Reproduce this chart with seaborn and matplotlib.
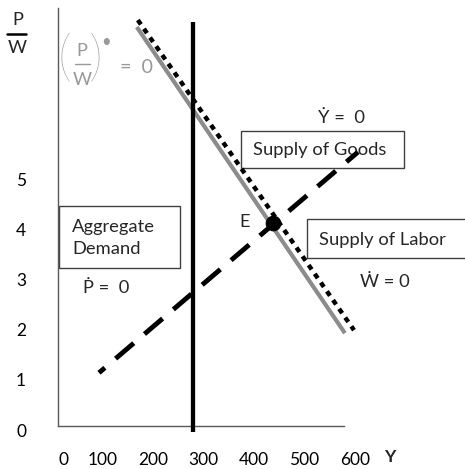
import matplotlib
matplotlib.use("Agg")
import matplotlib.pyplot as plt
import matplotlib.transforms as mtransforms
from matplotlib.patches import Rectangle
from matplotlib.lines import Line2D
import seaborn as sns
import pandas as pd

sns.set_style("white")
plt.rcParams['font.family'] = ['Lato', 'DejaVu Sans']

# ---- data ----
x_ticks = [0, 100, 200, 300, 400, 500, 600]
y_ticks = [0, 1, 2, 3, 4, 5]

ad_x = [279, 279]            # Aggregate demand (P-dot = 0), vertical
ad_y = [8.13, -0.04]
pw_x = [168, 580]            # (P/W)-dot = 0, gray
pw_y = [8.03, 1.93]
goods_x = [170, 598]         # Supply of goods (Y-dot = 0), dotted
goods_y = [8.17, 1.99]
labor_x = [93, 606]          # Supply of labor (W-dot = 0), dashed
labor_y = [1.14, 5.54]
eq_x = [438]
eq_y = [4.12]

W, H = 465, 469
fig = plt.figure(figsize=(W / 100, H / 100), dpi=100)
ax = fig.add_axes([52 / W, (H - 430) / H, 303 / W, 422 / H])
ax.set_xlim(0, 600)
ax.set_ylim(0, 8.41)

kw = dict(ax=ax, estimator=None, sort=False, legend=False, clip_on=False)
sns.lineplot(x=ad_x, y=ad_y, color='black', lw=3.1, solid_capstyle='butt', zorder=5, **kw)
sns.lineplot(x=pw_x, y=pw_y, color='#8c8c8c', lw=3.0, solid_capstyle='butt', zorder=4, **kw)
sns.lineplot(x=goods_x, y=goods_y, color='black', lw=3.2, linestyle=(0, (1.2, 1.2)), zorder=6, **kw)
sns.lineplot(x=labor_x, y=labor_y, color='black', lw=3.5, linestyle=(3.3, (4.9, 2.9)), zorder=6, **kw)
sns.scatterplot(x=eq_x, y=eq_y, color='black', s=110, edgecolor='black', zorder=7, ax=ax, legend=False, clip_on=False)

# spines
for s in ['top', 'right']:
    ax.spines[s].set_visible(False)
ax.spines['left'].set_position(('data', 12))
ax.spines['left'].set_bounds(0.08, 8.41)
ax.spines['bottom'].set_position(('data', 0.08))
ax.spines['bottom'].set_bounds(12, 578)
for s in ['left', 'bottom']:
    ax.spines[s].set_color('#595959')
    ax.spines[s].set_linewidth(1.0)

ax.set_xticks(x_ticks)
ax.set_xticklabels([str(v) for v in x_ticks])
ax.set_yticks(y_ticks)
ax.set_yticklabels([str(v) for v in y_ticks])
ax.tick_params(axis='both', length=0, labelsize=12.5, colors='black')
ax.tick_params(axis='x', pad=19)
ax.tick_params(axis='y', pad=23)
lab0 = ax.get_xticklabels()[0]
lab0.set_transform(lab0.get_transform() + mtransforms.ScaledTranslation(11 / 100, 0, fig.dpi_scale_trans))

ts = 13.2
# boxes
for (x0, x1, y0, y1) in [(14, 253, 3.23, 4.46), (374, 697, 5.22, 5.96), (505, 822, 3.43, 4.20)]:
    ax.add_patch(Rectangle((x0, y0), x1 - x0, y1 - y0, fill=False, edgecolor='#404040',
                           lw=1.0, clip_on=False, zorder=2))
ax.text(40, 3.83, 'Aggregate\nDemand', fontsize=ts, va='center', ha='left', linespacing=1.5, zorder=3)
ax.text(398, 5.58, 'Supply of Goods', fontsize=ts, va='center', ha='left', zorder=3)
ax.text(529, 3.78, 'Supply of Labor', fontsize=ts, va='center', ha='left', zorder=3)

ax.text(574, 6.22, 'Ẏ =  0', fontsize=ts, ha='center', va='center', clip_on=False)
ax.text(107, 2.83, 'Ṗ =  0', fontsize=ts, ha='center', va='center', clip_on=False)
ax.text(659, 2.95, 'Ẇ = 0', fontsize=ts, ha='center', va='center', clip_on=False)
ax.text(382, 4.14, 'E', fontsize=ts, ha='center', va='center')
ax.text(669, -0.53, 'Y', fontsize=12.5, fontweight='bold', ha='center', va='center', clip_on=False)

def px(xp, yp):
    return ((xp - 52) / 0.505, (430 - yp) / 50.2)

# P/W label top-left
ax.text(*px(18, 20), 'P', fontsize=ts, ha='center', va='center', clip_on=False)
ax.text(*px(17, 48), 'W', fontsize=ts, ha='center', va='center', clip_on=False)
a, b = px(7, 34), px(26, 34)
ax.add_line(Line2D([a[0], b[0]], [a[1], b[1]], color='black', lw=1.8, clip_on=False))

# gray (P/W)-dot = 0
g = '#999999'
ax.text(*px(64, 60), '(', fontsize=40, ha='center', va='center', color=g, clip_on=False,
        fontweight='light')
ax.text(*px(96, 60), ')', fontsize=40, ha='center', va='center', color=g, clip_on=False,
        fontweight='light')
ax.text(*px(82, 51), 'P', fontsize=ts, ha='center', va='center', color=g, clip_on=False)
ax.text(*px(82, 80), 'W', fontsize=ts, ha='center', va='center', color=g, clip_on=False)
a, b = px(75, 64), px(90, 64)
ax.add_line(Line2D([a[0], b[0]], [a[1], b[1]], color=g, lw=1.0, clip_on=False))
ax.text(*px(106, 42), '•', fontsize=12, ha='center', va='center', color=g, clip_on=False)
ax.text(*px(136, 67), '=  0', fontsize=ts + 1, ha='center', va='center', color=g, clip_on=False)

fig.savefig('out.png', dpi=100)
